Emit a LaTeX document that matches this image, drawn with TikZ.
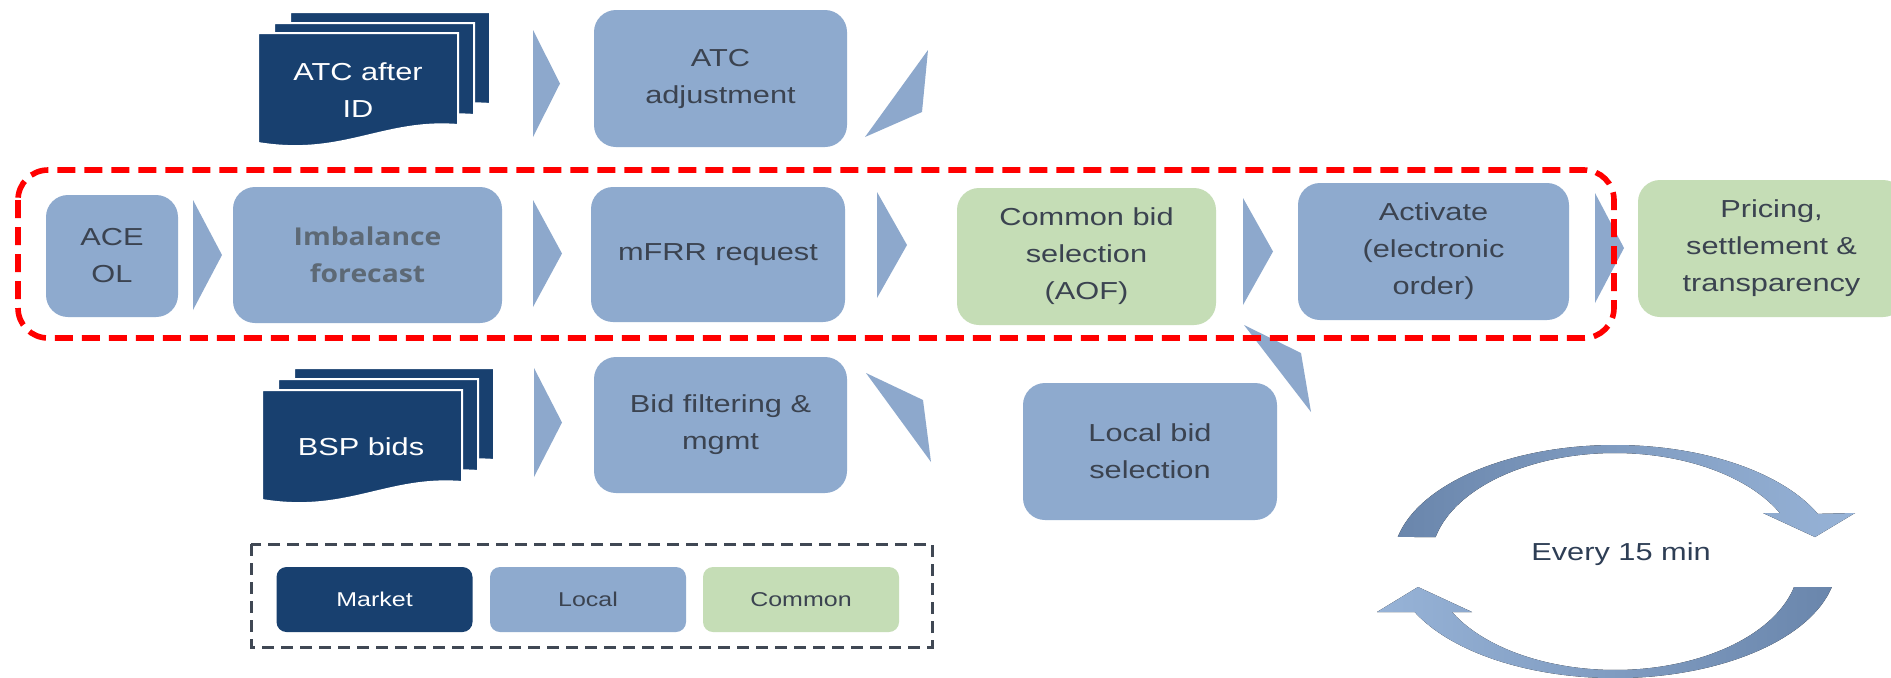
\documentclass[tikz,border=0pt]{standalone}
\usepackage{fontspec}
\setmainfont{Liberation Sans}[FakeStretch=1.25]
\newfontfamily\impfont{Open Sans}[FakeStretch=1.15]
\usetikzlibrary{calc}
\definecolor{localc}{HTML}{8EAACE}
\definecolor{marketc}{HTML}{18406F}
\definecolor{commonc}{HTML}{C5DDB6}
\definecolor{txt}{HTML}{3B4350}
\definecolor{impgray}{HTML}{5D6975}
\definecolor{chevc}{HTML}{8DA8CC}
\definecolor{legframe}{HTML}{404854}
\definecolor{cycdark}{HTML}{6A86AC}
\definecolor{cyclight}{HTML}{97B3D7}
\definecolor{cyctext}{HTML}{2E3E55}
\newcommand\mainsz{\fontsize{12.3pt}{18.5pt}\selectfont}
\newcommand\legsz{\fontsize{10pt}{12pt}\selectfont}
\tikzset{
  box/.style={rounded corners=11pt, fill=localc, text=txt, align=center, font=\mainsz, inner sep=0pt},
  greenbox/.style={box, fill=commonc},
  legbox/.style={rounded corners=5pt, inner sep=0pt, font=\legsz, minimum width=98pt, minimum height=32.5pt},
  page/.style={fill=marketc, draw=white, line width=1pt},
  doctext/.style={text=white, align=center, font=\mainsz, inner sep=0pt},
  chev/.style={fill=chevc},
  reddash/.style={draw=red, line width=2.8pt, dash pattern=on 9pt off 4.5pt, rounded corners=15pt},
  legdash/.style={draw=legframe, line width=1.5pt, dash pattern=on 6pt off 3.5pt},
}
\newcommand\docpage[2]{%
  \begin{scope}[shift={(#1,#2)}]
    \filldraw[page] (0,0) -- (200,0) -- (200,92) .. controls (125,86) and (85,124) .. (0,110) -- cycle;
  \end{scope}}
\newcommand\chev[4]{\fill[chev] (#1,#2) -- ({#1+#4},{(#2+#3)/2}) -- (#1,#3) -- cycle;}
\begin{document}
\begin{tikzpicture}[x=0.5pt,y=-0.5pt]
\clip (0,0) rectangle (1891,677);
\fill[white] (0,0) rectangle (1891,677);

% document stacks
\docpage{290}{12}\docpage{274}{23}\docpage{258}{33}
\node[doctext] (atcid) at (358,90) {ATC after\\ID};
\docpage{294}{368}\docpage{278}{379}\docpage{262}{390}
\node[doctext] (bsp) at (361,447) {BSP bids};

% boxes
\node[box, minimum width=126.5pt, minimum height=68.5pt] (atcadj) at (720.5,78.5) {ATC\\adjustment};
\node[box, minimum width=66pt, minimum height=61pt] (ace) at (112,256) {ACE\\OL};
\node[box, minimum width=134.5pt, minimum height=68pt, font=\impfont\bfseries\mainsz, text=impgray] (imb) at (367.5,255) {Imbalance\\forecast};
\node[box, minimum width=127pt, minimum height=67.5pt] (mfrr) at (718,254.5) {mFRR request};
\node[greenbox, minimum width=129.5pt, minimum height=68.5pt] (cbs) at (1086.5,256.5) {Common bid\\selection\\(AOF)};
\node[box, minimum width=135.5pt, minimum height=68.5pt] (act) at (1433.5,251.5) {Activate\\(electronic\\order)};
\node[greenbox, minimum width=133.5pt, minimum height=68.5pt, text width=133.5pt] (price) at (1771.5,248.5) {Pricing,\\settlement \&\\transparency};
\node[box, minimum width=126.5pt, minimum height=68pt] (bidf) at (720.5,425) {Bid filtering \&\\mgmt};
\node[box, minimum width=127pt, minimum height=68.5pt] (lbs) at (1150,451.5) {Local bid\\selection};

% chevrons
\chev{533}{30}{137}{27}
\chev{193}{200}{310}{29}
\chev{533}{200}{307}{29}
\chev{877}{192}{298}{30}
\chev{1243}{198}{305}{30}
\chev{1595}{193}{303}{29}
\chev{534}{368}{477}{28}

% diagonal block arrows
\fill[chev] (928,50) -- (865,137) -- (922,112) -- cycle;
\fill[chev] (866,373) -- (923,400) -- (931,462) -- cycle;
\fill[chev] (1244,325) -- (1301,353) -- (1311,412) -- cycle;

% red dashed frame
\draw[reddash] (18,170) rectangle (1614,338);

% legend
\draw[legdash] (251,544) rectangle (932,647);
\node[legbox, fill=marketc, text=white] (lmarket) at (374.5,599.5) {Market};
\node[legbox, fill=localc, text=txt] (llocal) at (588,599.5) {Local};
\node[legbox, fill=commonc, text=txt] (lcommon) at (801,599.5) {Common};

% cycle arrows
\fill[left color=cycdark, right color=cyclight]
  (1397.8,536.9) arc[start angle=192, end angle=336, x radius=222, y radius=116]
  -- (1855,513) -- (1815,537) -- (1763,513) -- (1779.8,513)
  arc[start angle=333.6, end angle=192.8, x radius=184, y radius=108] -- cycle;
\fill[left color=cyclight, right color=cycdark]
  (1831.8,587) arc[start angle=12.4, end angle=154.5, x radius=222, y radius=116]
  -- (1377,612) -- (1418,587) -- (1472,612) -- (1452,612)
  arc[start angle=152.4, end angle=13.4, x radius=184, y radius=108] -- cycle;
\node[text=cyctext, font=\mainsz, inner sep=0pt] (every) at (1621,554) {Every 15 min};
\end{tikzpicture}
\end{document}
